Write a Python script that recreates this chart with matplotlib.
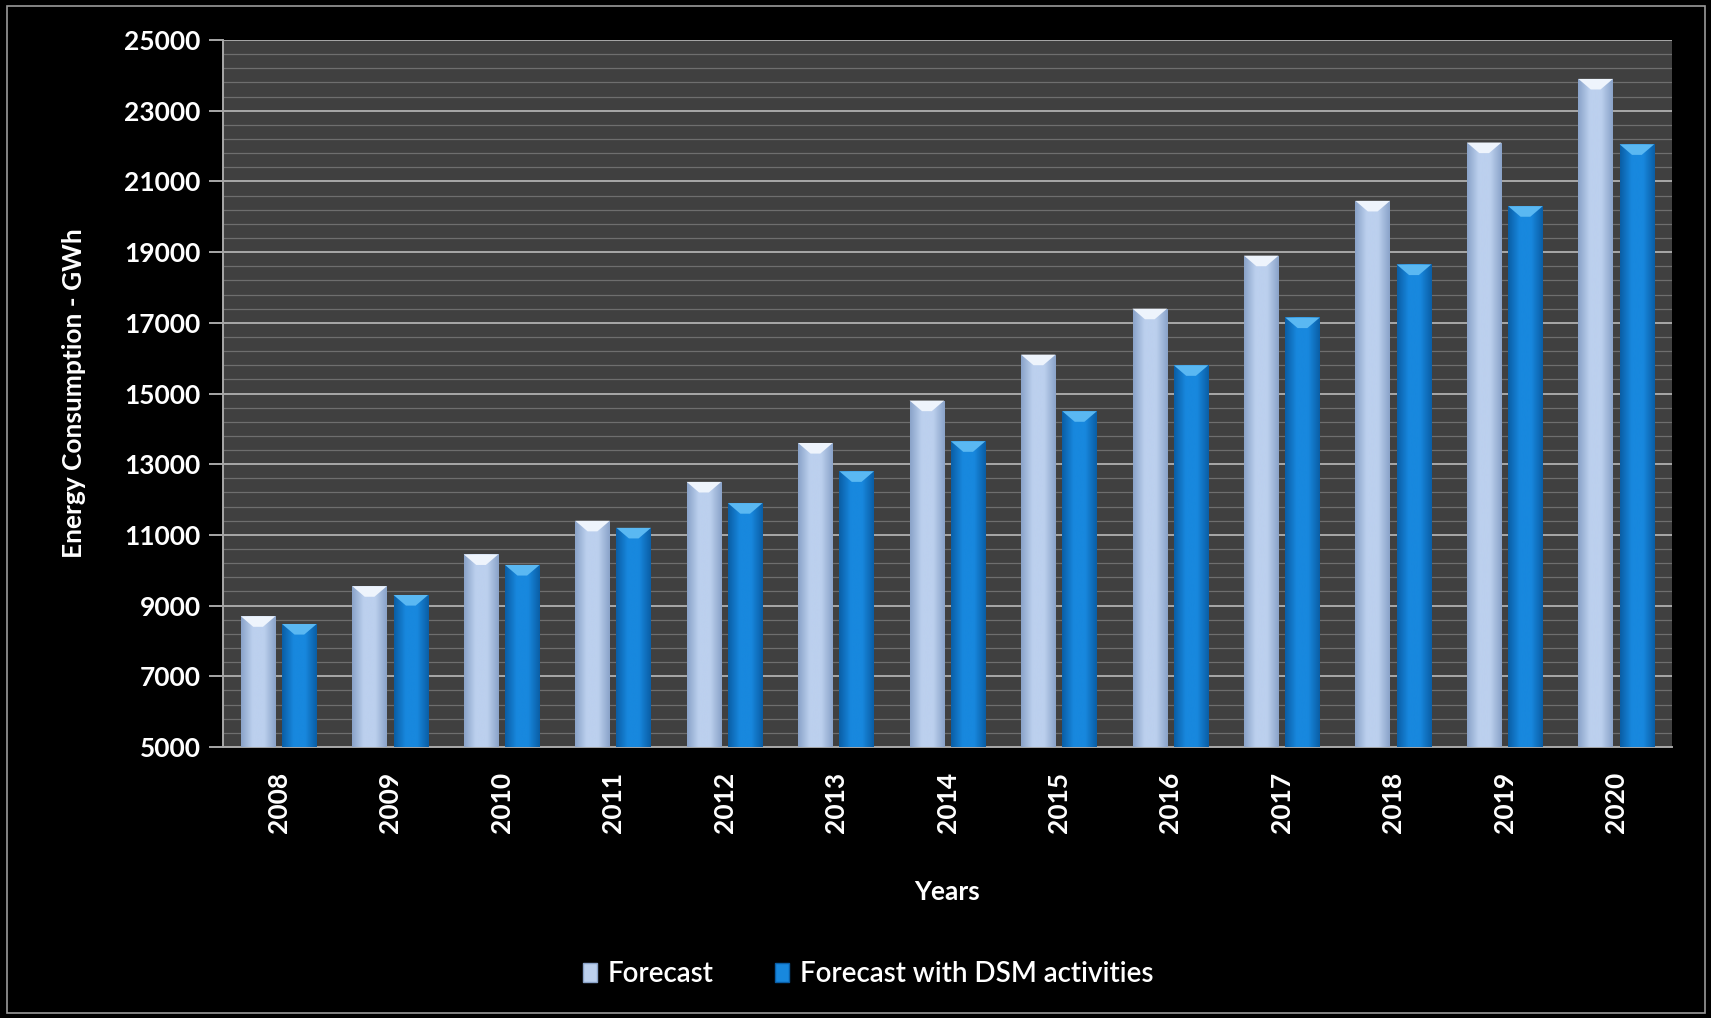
"""Energy consumption forecast bar chart, dark style."""

import matplotlib

matplotlib.use("Agg")
import matplotlib.pyplot as plt
import numpy as np
from matplotlib.colors import LinearSegmentedColormap
from matplotlib.patches import Patch, Polygon, Rectangle

years = ["2008", "2009", "2010", "2011", "2012", "2013", "2014",
         "2015", "2016", "2017", "2018", "2019", "2020"]
forecast = [8700, 9550, 10450, 11400, 12500, 13600, 14800,
            16100, 17400, 18900, 20450, 22100, 23900]
forecast_dsm = [8480, 9300, 10150, 11200, 11900, 12800, 13650,
                14500, 15800, 17150, 18650, 20300, 22050]
series_names = ["Forecast", "Forecast with DSM activities"]

plt.rcParams["font.family"] = ["Lato", "DejaVu Sans"]

W, H = 1711, 1018
fig = plt.figure(figsize=(W / 100, H / 100), dpi=100, facecolor="black")
ax = fig.add_axes([223 / W, (H - 747) / H, 1449 / W, 707 / H])
ax.set_facecolor("#404040")

# frame around the whole picture
fig.patches.append(Rectangle((7 / W, 5 / H), (1705 - 7) / W, (1012 - 5) / H,
                             transform=fig.transFigure, fill=False,
                             edgecolor="#9a9a9a", linewidth=1.2))

x = np.arange(len(years))
bar_w = 0.31
offset = 0.185
ymin = 5000
cap_h = 300

styles = [
    {"edge": "#8aa3c9", "mid": "#bcd0ee", "cap": "#eef4fc"},
    {"edge": "#0a5ea6", "mid": "#1888de", "cap": "#5ab8f2"},
]

for vals, off, st in zip([forecast, forecast_dsm], [-offset, offset], styles):
    cmap = LinearSegmentedColormap.from_list("g", [st["edge"], st["mid"], st["mid"], st["edge"]])
    grad = np.linspace(0, 1, 64).reshape(1, -1)
    bars = ax.bar(x + off, np.array(vals) - ymin, bar_w, bottom=ymin,
                  color=st["mid"], edgecolor="none", zorder=3)
    for b, v in zip(bars, vals):
        x0 = b.get_x()
        im = ax.imshow(grad, cmap=cmap, aspect="auto", zorder=3.1,
                       extent=(x0, x0 + bar_w, ymin, v), interpolation="bicubic")
        im.set_clip_path(b)
        inset = bar_w * 0.36
        cap = Polygon([(x0, v), (x0 + bar_w, v), (x0 + bar_w - inset, v - cap_h),
                       (x0 + inset, v - cap_h)], closed=True, facecolor=st["cap"],
                      edgecolor="none", zorder=3.2)
        ax.add_patch(cap)

ax.set_xlim(-0.5, len(years) - 0.5)
ax.set_ylim(5000, 25000)
ax.set_yticks(np.arange(5000, 25001, 2000))
ax.set_yticks(np.arange(5000, 25001, 400), minor=True)
ax.set_xticks(x)
ax.set_xticklabels(years, rotation=90)
ax.grid(axis="y", which="major", color="#a8a8a8", linewidth=1.4, zorder=1)
ax.grid(axis="y", which="minor", color="#6e6e6e", linewidth=0.9, zorder=1)
ax.set_axisbelow(True)

for side in ["top", "right"]:
    ax.spines[side].set_visible(False)
for side in ["left", "bottom"]:
    ax.spines[side].set_color("#a8a8a8")
    ax.spines[side].set_linewidth(1.4)

ax.tick_params(axis="y", which="major", colors="#a8a8a8", length=10, width=1.4,
               labelcolor="white", labelsize=19, pad=6)
ax.tick_params(axis="y", which="minor", length=0)
ax.tick_params(axis="x", length=0, labelcolor="white", labelsize=19, pad=18)
for lbl in ax.get_yticklabels() + ax.get_xticklabels():
    lbl.set_fontweight("bold")

ax.set_xlabel("Years", color="white", fontsize=19, fontweight="bold", labelpad=34)
ax.set_ylabel("Energy Consumption - GWh", color="white", fontsize=19,
              fontweight="bold", labelpad=28)

handles = [Patch(facecolor=st["mid"], edgecolor=st["edge"]) for st in styles]
leg = fig.legend(handles, series_names, loc="center", ncol=2,
                 bbox_to_anchor=(868 / W, 1 - 974 / H), frameon=False,
                 fontsize=20, handlelength=0.5, handleheight=0.7,
                 handletextpad=0.4, columnspacing=2.2,
                 prop={"size": 20, "weight": "semibold"})
for t in leg.get_texts():
    t.set_color("white")

fig.savefig("out.png", dpi=100, facecolor="black")
